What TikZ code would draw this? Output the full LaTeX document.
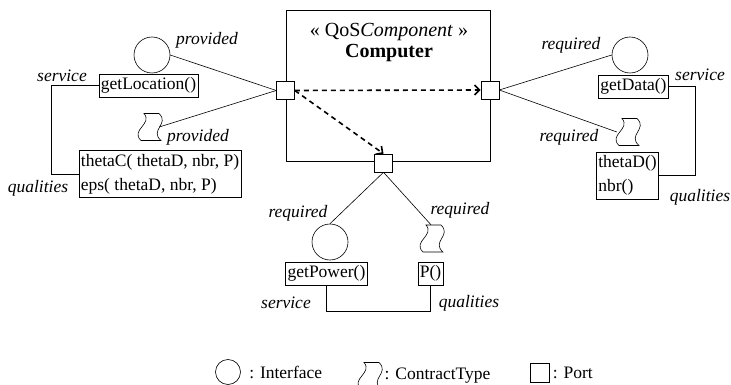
\documentclass[tikz,border=0pt]{standalone}
\usepackage{fontspec}
\setmainfont{Liberation Serif}
\usetikzlibrary{positioning,arrows.meta}

\tikzset{
contract/.pic={
  \draw [semithick] (-5,-13.5) -- (10,-13.5) .. controls (21,-3) and (0,3) .. (12,13.5)
        -- (-8,13.5) .. controls (-19,3) and (4,-3) .. cycle;
  \node (-n) [inner sep=0pt, minimum width=20pt, minimum height=27pt] {};
}
}

\begin{document}
\begin{tikzpicture}
[
x=1pt, y=-1pt,
comp-a/.style={draw, semithick, minimum width=204pt, minimum height=151pt, inner sep=0pt},
port-a/.style={draw, semithick, fill=white, minimum size=18pt, inner sep=0pt},
iface-a/.style={circle, draw, semithick, minimum size=36pt, inner sep=0pt},
box-a/.style={draw, semithick, inner xsep=2pt, inner ysep=3.5pt, align=left, font=\fontsize{17.5}{24}\selectfont},
text-a/.style={font=\fontsize{17.5}{21}\selectfont},
title-a/.style={align=center, font=\fontsize{20}{21}\selectfont},
lab-a/.style={font=\fontsize{17.5}{21}\selectfont\itshape},
link-a/.style={semithick},
dep-a/.style={line width=1.6pt, dash pattern=on 5pt off 4pt, -{Straight Barb[length=5pt,width=10pt]}}
]
\useasboundingbox (0,0) rectangle (731,385);

% component
\node (comp)     [comp-a]  at (388,85.5)  {};
\node (title)    [title-a] at (389,43)    {« QoS\textit{Component} »\\\textbf{Computer}};
\node (lp)       [port-a]  at (285.5,90.5) {};
\node (rp)       [port-a]  at (490,90)     {};
\node (bp)       [port-a]  at (383.5,163)  {};
\draw [dep-a] (lp.east) -- (rp.west);
\draw [dep-a] (lp.east) -- (bp.north);

% provided (left)
\node (lcirc)    [iface-a] at (152,55)    {};
\node (gl)       [box-a]   at (148.5,85.5) {getLocation()};
\pic  (lk)                 at (149,127)   {contract};
\node (tc)       [box-a]   at (160,174)   {thetaC( thetaD, nbr, P)\\eps( thetaD, nbr, P)};
\node (l-prov-1) [lab-a]   at (207,40)    {provided};
\node (l-prov-2) [lab-a]   at (198,137)   {provided};
\node (l-serv-1) [lab-a]   at (62,76)     {service};
\node (l-qual-1) [lab-a]   at (38,188)    {qualities};

% required (right)
\node (rcirc)    [iface-a] at (630,55)    {};
\node (gd)       [box-a]   at (633.5,86.5) {getData()};
\pic  (rk)                 at (627,132)   {contract};
\node (td)       [box-a]   at (627.5,175.5) {thetaD()\\nbr()};
\node (l-req-1)  [lab-a]   at (571,45)    {required};
\node (l-req-2)  [lab-a]   at (569,137)   {required};
\node (l-serv-2) [lab-a]   at (700,75)    {service};
\node (l-qual-2) [lab-a]   at (700,197)   {qualities};

% required (bottom)
\node (bcirc)    [iface-a] at (330,242)   {};
\node (gp)       [box-a]   at (326.5,273.5) {getPower()};
\pic  (bk)                 at (431,238.5) {contract};
\node (pp)       [box-a]   at (430.5,273.5) {P()};
\node (l-req-3)  [lab-a]   at (298,213)   {required};
\node (l-req-4)  [lab-a]   at (460,210)   {required};
\node (l-serv-3) [lab-a]   at (286,303)   {service};
\node (l-qual-3) [lab-a]   at (469,303)   {qualities};

% links
\draw [link-a] (lp.west) -- (lcirc.east);
\draw [link-a] (lp.west) -- (lk-n.east);
\draw [link-a] (rp.east) -- (rcirc.west);
\draw [link-a] (rp.east) -- (rk-n.west);
\draw [link-a] (bp.south) -- (bcirc.north);
\draw [link-a] (bp.south) -- (bk-n.north);
\draw [link-a] (gl.west) -- ++(-47,0) |- (tc.west);
\draw [link-a] (gd.east) -- ++(26,0) |- (td.east);
\draw [link-a] (gp.south) -- ++(0,26) -| (pp.south);

% legend
\node (lg-if)    [iface-a, minimum size=25pt] at (228,372) {};
\node (lg-if-t)  [text-a, right = 5pt of lg-if] {: Interface};
\pic  (lg-ct)                at (369,376) {contract};
\node (lg-ct-t)  [text-a, right = 2pt of lg-ct-n] {: ContractType};
\node (lg-pt)    [port-a, minimum size=19pt] at (539.5,372.5) {};
\node (lg-pt-t)  [text-a, right = 0pt of lg-pt] {: Port};
\end{tikzpicture}
\end{document}
